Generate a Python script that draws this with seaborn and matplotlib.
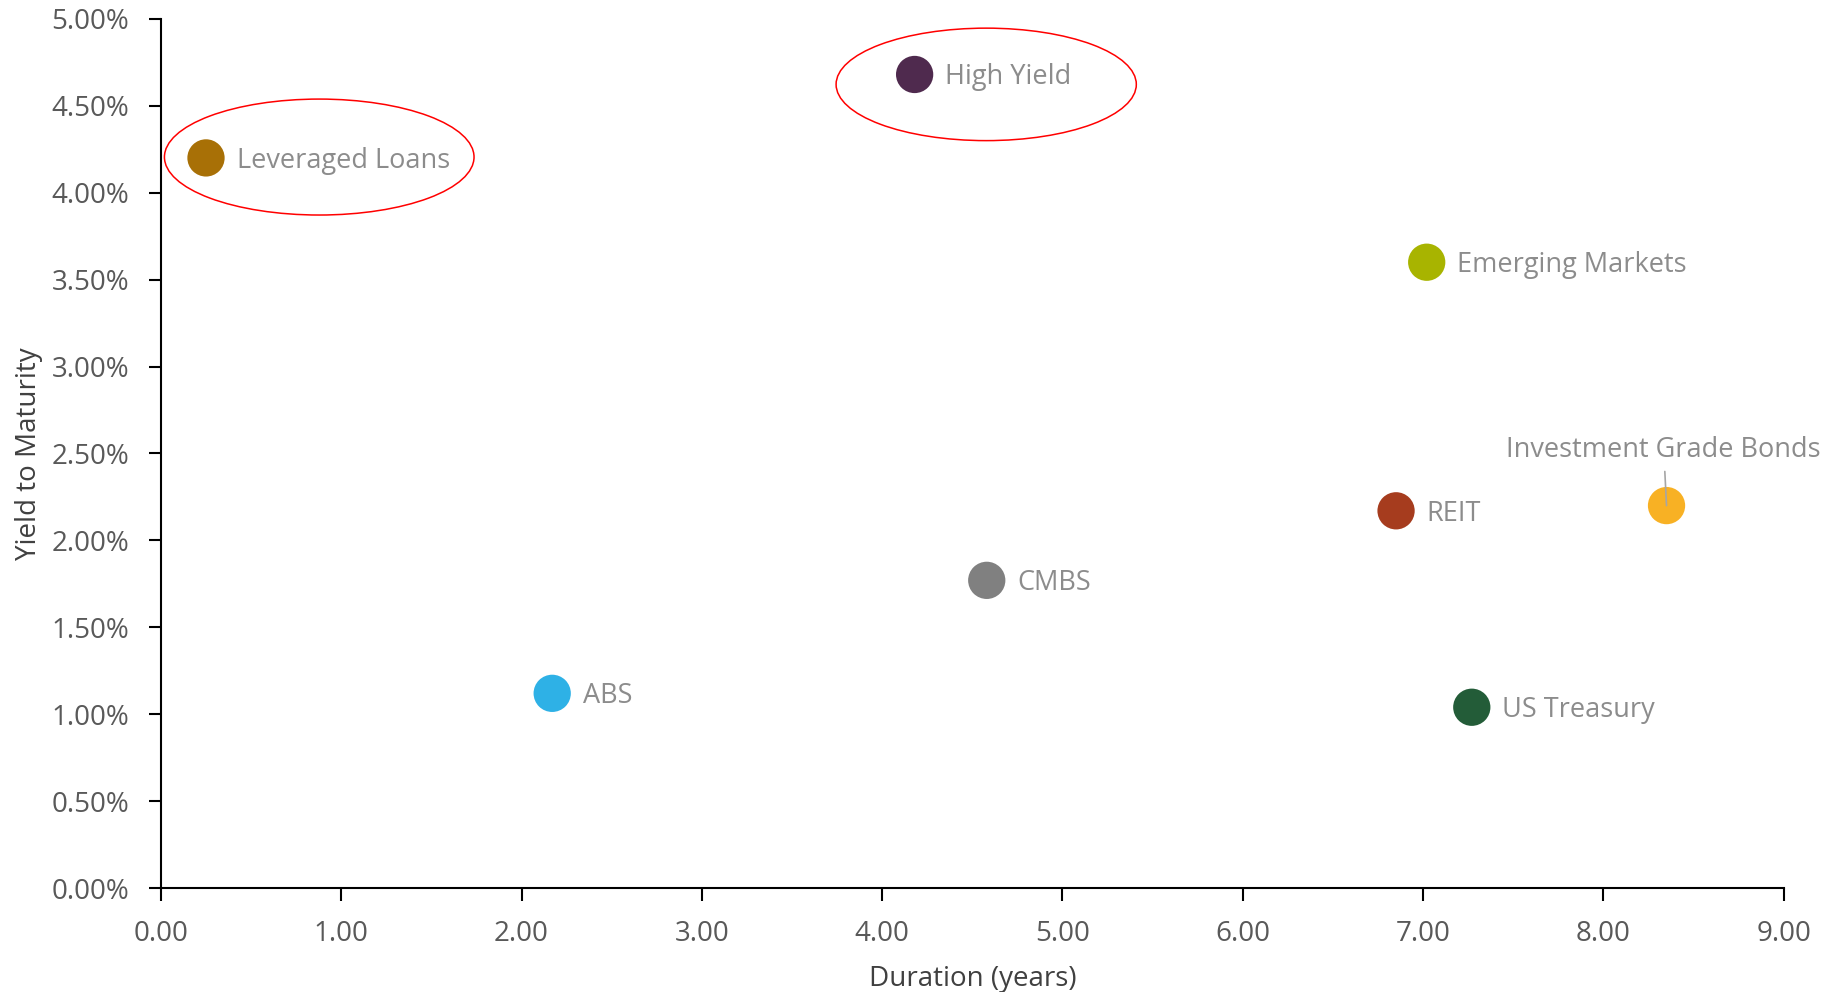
import matplotlib
matplotlib.use("Agg")
import matplotlib.pyplot as plt
import seaborn as sns
import pandas as pd
from matplotlib.patches import Ellipse
from matplotlib.ticker import FuncFormatter, MultipleLocator

categories = ["Leveraged Loans", "High Yield", "Emerging Markets", "Investment Grade Bonds",
              "REIT", "CMBS", "ABS", "US Treasury"]
duration = [0.25, 4.18, 7.02, 8.35, 6.85, 4.58, 2.17, 7.27]
ytm = [4.20, 4.68, 3.60, 2.20, 2.17, 1.77, 1.12, 1.04]
colors = ["#A87006", "#4F2A4E", "#A8B400", "#F8B124", "#A63C1E", "#808080", "#2EB1E6", "#235C38"]

df = pd.DataFrame({"cat": categories, "dur": duration, "ytm": ytm})

sns.set_style("white")
plt.rcParams["font.family"] = ["Open Sans", "DejaVu Sans"]

fig = plt.figure(figsize=(18.37, 9.92), dpi=100)
ax = fig.add_axes([0.0876, 0.1048, 0.8834, 0.8762])

sns.scatterplot(data=df, x="dur", y="ytm", hue="cat", palette=colors, s=720,
                linewidth=0, legend=False, ax=ax, zorder=3)

for c, x, y in zip(categories, duration, ytm):
    if c == "Investment Grade Bonds":
        ax.annotate(c, xy=(x, y), xytext=(-2, 40), textcoords="offset points",
                    ha="center", va="center", fontsize=19.5, color="#8C8C8C", zorder=5,
                    arrowprops=dict(arrowstyle="-", color="#A6A6A6", lw=1.2,
                                    shrinkA=3, shrinkB=0))
    else:
        ax.annotate(c, xy=(x, y), xytext=(22, -2), textcoords="offset points",
                    ha="left", va="center", fontsize=19.5, color="#8C8C8C")

ax.add_patch(Ellipse((0.878, 4.205), 1.717, 0.667, fill=False, edgecolor="red", lw=1.1, zorder=4))
ax.add_patch(Ellipse((4.577, 4.623), 1.665, 0.647, fill=False, edgecolor="red", lw=1.1, zorder=4))

ax.set_xlim(0, 9)
ax.set_ylim(0, 5)
ax.xaxis.set_major_locator(MultipleLocator(1))
ax.yaxis.set_major_locator(MultipleLocator(0.5))
ax.xaxis.set_major_formatter(FuncFormatter(lambda v, p: f"{v:.2f}"))
ax.yaxis.set_major_formatter(FuncFormatter(lambda v, p: f"{v:.2f}%"))

for s in ["top", "right"]:
    ax.spines[s].set_visible(False)
for s in ["left", "bottom"]:
    ax.spines[s].set_color("#000000")
    ax.spines[s].set_linewidth(1.5)

ax.tick_params(axis="both", which="major", labelsize=20, labelcolor="#595959",
               direction="out", length=9, width=1.5, color="#000000", left=True, bottom=True)
ax.tick_params(axis="y", pad=14)
ax.tick_params(axis="x", pad=14)

ax.set_xlabel("Duration (years)", fontsize=20, color="#404040", labelpad=12)
ax.set_ylabel("Yield to Maturity", fontsize=20, color="#404040", labelpad=6)

fig.savefig("out.png", dpi=100)
